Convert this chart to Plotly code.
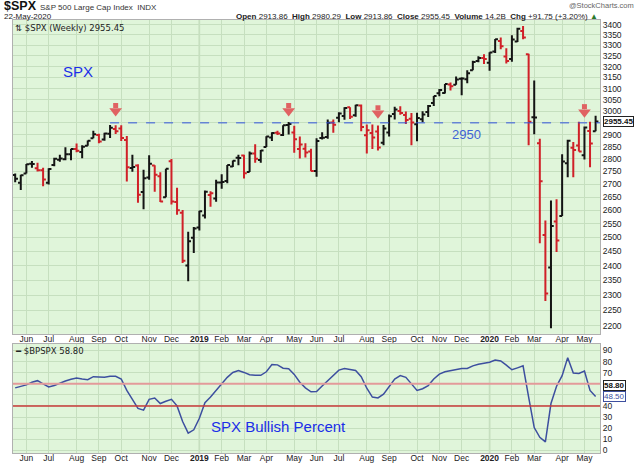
import plotly.graph_objects as go
import pandas as pd
import numpy as np

# weekly bars, week of 21-May-2018 .. week of 18-May-2020
week_start = pd.date_range("2018-05-21", periods=105, freq="7D")

spx_open = [2735.4, 2705.0, 2741.7, 2780.2, 2762.6, 2754.3, 2704.9, 2775.6, 2796.9, 2799.2,
            2819.0, 2840.3, 2827.9, 2853.9, 2884.7, 2898.4, 2880.0, 2903.8, 2923.8, 2926.3,
            2877.5, 2763.8, 2773.9, 2669.3, 2726.4, 2773.9, 2730.7, 2649.1, 2790.5, 2630.9,
            2590.8, 2400.6, 2498.9, 2535.6, 2580.3, 2657.9, 2644.0, 2706.5, 2712.4, 2769.3,
            2804.4, 2814.4, 2747.6, 2822.6, 2796.0, 2848.6, 2888.5, 2908.3, 2898.8, 2940.6,
            2908.9, 2840.2, 2841.9, 2830.0, 2751.5, 2885.8, 2889.8, 2951.4, 2971.4, 2979.8,
            3017.8, 2982.6, 3024.5, 2898.1, 2907.1, 2913.5, 2866.7, 2909.0, 2988.4, 3001.5,
            2983.5, 2967.1, 2944.2, 2965.8, 2996.5, 3035.4, 3078.9, 3080.3, 3117.9, 3117.4,
            3143.8, 3141.9, 3183.6, 3226.1, 3240.1, 3217.6, 3271.1, 3321.0, 3247.2, 3235.7,
            3318.3, 3369.0, 3257.6, 2974.3, 2863.9, 2508.6, 2393.5, 2558.0, 2578.3, 2782.5,
            2845.6, 2854.7, 2815.0, 2915.5, 2913.9]
spx_high = [2742.2, 2736.9, 2779.9, 2791.5, 2785.1, 2764.2, 2763.0, 2804.5, 2816.8, 2848.0,
            2841.6, 2863.4, 2855.6, 2876.2, 2916.5, 2903.8, 2908.3, 2940.9, 2939.9, 2939.9,
            2894.8, 2817.0, 2778.9, 2756.6, 2815.2, 2775.0, 2746.8, 2760.9, 2800.2, 2685.4,
            2601.1, 2520.3, 2538.1, 2597.8, 2675.5, 2671.9, 2716.7, 2739.0, 2775.7, 2794.2,
            2816.9, 2816.9, 2830.7, 2860.3, 2836.0, 2893.4, 2910.5, 2916.1, 2939.4, 2954.1,
            2937.3, 2892.2, 2864.4, 2841.4, 2884.9, 2910.6, 2964.2, 2964.0, 2995.8, 3017.8,
            3017.8, 3028.0, 3029.3, 2943.3, 2943.3, 2939.1, 2940.4, 2985.9, 3020.0, 3022.0,
            2999.2, 2992.5, 2993.3, 3000.4, 3027.4, 3066.9, 3097.8, 3120.5, 3127.6, 3154.3,
            3150.6, 3182.7, 3226.6, 3247.9, 3258.1, 3267.1, 3329.9, 3337.8, 3285.9, 3348.0,
            3385.1, 3393.5, 3259.8, 3136.7, 2882.6, 2562.0, 2637.0, 2641.4, 2818.6, 2879.2,
            2869.1, 2954.9, 2934.0, 2954.9, 2980.3]
spx_low = [2707.4, 2676.8, 2741.7, 2764.3, 2749.2, 2692.0, 2698.9, 2770.5, 2789.2, 2795.1,
           2795.1, 2827.2, 2802.5, 2853.9, 2884.7, 2864.1, 2875.0, 2886.6, 2903.3, 2874.0,
           2710.5, 2749.0, 2628.2, 2603.5, 2717.1, 2670.8, 2631.1, 2649.0, 2621.5, 2583.2,
           2408.6, 2346.6, 2444.0, 2524.6, 2569.1, 2612.7, 2631.6, 2681.8, 2703.5, 2767.3,
           2774.8, 2722.3, 2747.6, 2785.0, 2785.0, 2848.6, 2873.3, 2898.4, 2894.5, 2900.5,
           2825.4, 2801.4, 2805.5, 2750.5, 2728.8, 2880.0, 2883.3, 2908.0, 2952.2, 2963.4,
           2966.5, 2976.6, 2914.1, 2822.1, 2840.6, 2834.9, 2856.0, 2891.9, 2964.2, 2985.2,
           2945.5, 2856.0, 2873.0, 2952.9, 2975.3, 3023.2, 3065.9, 3078.3, 3091.4, 3117.4,
           3070.3, 3124.3, 3183.6, 3220.5, 3212.0, 3181.3, 3263.6, 3281.5, 3214.6, 3223.0,
           3315.2, 3328.5, 2855.8, 2901.5, 2478.9, 2280.5, 2191.9, 2447.5, 2578.3, 2727.1,
           2727.1, 2830.7, 2797.9, 2766.6, 2913.9]
spx_close = [2721.3, 2734.6, 2779.0, 2779.7, 2754.9, 2718.4, 2759.8, 2801.3, 2801.8, 2818.8,
             2840.4, 2833.3, 2850.1, 2874.7, 2901.5, 2871.7, 2905.0, 2929.7, 2914.0, 2885.6,
             2767.1, 2767.8, 2658.7, 2723.1, 2781.0, 2736.3, 2632.6, 2760.2, 2633.1, 2600.0,
             2416.6, 2485.7, 2531.9, 2596.3, 2670.7, 2664.8, 2706.5, 2707.9, 2775.6, 2792.7,
             2803.7, 2743.1, 2822.5, 2800.7, 2834.4, 2892.7, 2907.4, 2905.0, 2939.9, 2945.6,
             2881.4, 2859.5, 2826.1, 2752.1, 2873.3, 2887.0, 2950.5, 2941.8, 2990.4, 3013.8,
             2976.6, 3025.9, 2932.1, 2918.7, 2888.7, 2847.1, 2926.5, 2978.7, 3007.4, 2992.1,
             2961.8, 2952.0, 2970.3, 2986.2, 3022.6, 3066.9, 3093.1, 3120.5, 3110.3, 3141.0,
             3145.9, 3168.8, 3221.2, 3240.0, 3234.9, 3265.4, 3329.6, 3295.5, 3225.5, 3327.7,
             3380.2, 3337.8, 2954.2, 2972.4, 2711.0, 2304.9, 2541.5, 2488.7, 2789.8, 2874.6,
             2836.7, 2830.7, 2929.8, 2863.7, 2955.45]
close_before_first = 2712.97

bpspx = [56.3, 57.5, 59.0, 61.4, 62.8, 59.9, 57.2, 58.4, 60.8, 62.5,
         64.0, 65.2, 64.3, 63.7, 66.4, 66.2, 65.8, 66.7, 66.7, 64.3,
         54.0, 46.0, 37.8, 36.3, 46.0, 47.2, 42.2, 44.2, 46.0, 40.1,
         26.0, 15.6, 18.6, 28.9, 43.0, 48.0, 54.0, 60.5, 65.8, 70.2,
         72.0, 70.2, 68.1, 67.6, 67.6, 70.8, 77.3, 77.0, 74.0, 73.5,
         68.4, 61.4, 56.3, 52.8, 53.1, 58.0, 63.0, 67.3, 72.3, 73.7,
         72.9, 72.0, 66.4, 56.0, 48.0, 47.2, 50.7, 57.0, 64.3, 67.3,
         65.8, 59.9, 54.0, 55.5, 58.4, 64.3, 68.7, 70.8, 71.7, 73.2,
         73.7, 73.7, 76.1, 77.6, 78.2, 79.4, 81.4, 80.5, 76.7, 72.6,
         74.3, 76.1, 48.0, 20.6, 11.8, 7.7, 42.2, 57.8, 67.3, 83.5,
         69.6, 69.3, 71.4, 54.0, 48.5]

month_ticks = ["2018-06-04", "2018-07-02", "2018-08-06", "2018-09-03", "2018-10-01", "2018-11-05",
               "2018-12-03", "2019-01-07", "2019-02-04", "2019-03-04", "2019-04-01", "2019-05-06",
               "2019-06-03", "2019-07-01", "2019-08-05", "2019-09-02", "2019-10-07", "2019-11-04",
               "2019-12-02", "2020-01-06", "2020-02-03", "2020-03-02", "2020-04-06", "2020-05-04"]
month_labels = ["Jun", "Jul", "Aug", "Sep", "Oct", "Nov", "Dec", "<b>2019</b>", "Feb", "Mar", "Apr", "May",
                "Jun", "Jul", "Aug", "Sep", "Oct", "Nov", "Dec", "<b>2020</b>", "Feb", "Mar", "Apr", "May"]
price_ticks = list(range(2200, 3401, 50))
bp_ticks = list(range(0, 91, 10))
# labels hidden behind the value boxes on the right
price_hidden = [2950]
bp_hidden = [50, 60]

resistance = 2950
resistance_from = 17          # week index where the dashed line starts
arrow_weeks = [18, 49, 65, 102]
arrow_levels = [3010, 3010, 3000, 3005]
bp_ref_line = 58.8

RED = "#d02028"
BLACK = "#141414"
BG = "#e0f5da"
GRID = "#c6dfbf"
FONT = "Liberation Sans"

# bar colour follows close vs previous close, like StockCharts
prev_close = [close_before_first] + spx_close[:-1]
up = [c >= p for c, p in zip(spx_close, prev_close)]


def pick(vals, mask):
    return [v for v, m in zip(vals, mask) if m]


fig = go.Figure()
for mask, col in [(up, BLACK), ([not u for u in up], RED)]:
    fig.add_trace(go.Ohlc(
        x=pick(week_start, mask), open=pick(spx_open, mask), high=pick(spx_high, mask),
        low=pick(spx_low, mask), close=pick(spx_close, mask),
        increasing=dict(line=dict(color=col, width=2)),
        decreasing=dict(line=dict(color=col, width=2)),
        tickwidth=0.5, xaxis="x", yaxis="y", showlegend=False))

x_end = pd.Timestamp("2020-05-23 12:00")
x_start = pd.Timestamp("2018-05-18 06:00")

# 2950 resistance line
fig.add_trace(go.Scatter(x=[week_start[resistance_from], x_end], y=[resistance, resistance],
                         mode="lines", line=dict(color="#3355dd", width=1, dash="dash"),
                         xaxis="x", yaxis="y", showlegend=False, hoverinfo="skip"))

# red down arrows (shaft + head)
ax = [week_start[i] for i in arrow_weeks]
fig.add_trace(go.Scatter(x=ax, y=[v * 1.0050 for v in arrow_levels], mode="markers",
                         marker=dict(symbol="square", size=5, color="#e06262"),
                         xaxis="x", yaxis="y", showlegend=False, hoverinfo="skip"))
fig.add_trace(go.Scatter(x=ax, y=[v / 1.0030 for v in arrow_levels], mode="markers",
                         marker=dict(symbol="triangle-down", size=11, color="#e06262"),
                         xaxis="x", yaxis="y", showlegend=False, hoverinfo="skip"))

# bullish percent
fig.add_trace(go.Scatter(x=week_start, y=bpspx, mode="lines",
                         line=dict(color="#3d4f9f", width=1.5),
                         xaxis="x2", yaxis="y2", showlegend=False))

# plot area in pixels: x 12..600, y 20..460
def px(x):
    return (x - 12) / 588.0


def py(y):
    return (460 - y) / 440.0


ann = []


def text(x, y, s, size=9, color="#111", anchor="left", family=FONT, **kw):
    ann.append(dict(x=px(x), y=py(y), xref="paper", yref="paper", text=s, showarrow=False,
                    xanchor=anchor, yanchor="middle", font=dict(size=size, color=color, family=family), **kw))


text(1, 6, "<b>$SPX</b>", size=12.5)
text(37, 7, "S&P 500 Large Cap Index  INDX", size=8, color="#333")
text(1, 16, "22-May-2020", size=8, color="#222")
text(600, 16, "<b>Open</b> 2913.86  <b>High</b> 2980.29  <b>Low</b> 2913.86  <b>Close</b> 2955.45  "
     "<b>Volume</b> 14.2B  <b>Chg</b> +91.75 (+3.20%) <span style='color:#2a7a2a'>▲</span>",
     size=8, anchor="right", color="#222")
text(636, 5, "@StockCharts.com", size=7.5, anchor="right", color="#666")
text(12, 28, "⇅ $SPX (Weekly) 2955.45", size=8.5, color="#222", family="DejaVu Sans")
text(60, 72, "SPX", size=15, color="#1a2ee8")
text(466, 136, "2950", size=13, color="#3f63d6", anchor="center")
text(12, 356, "━ $BPSPX 58.80", size=8.5, color="#222", family="DejaVu Sans")
text(278, 433, "SPX Bullish Percent", size=15, color="#1a2ee8", anchor="center")

# value boxes on the right axis
box = dict(xref="paper", x=1.0, showarrow=False, xanchor="left", xshift=3, bgcolor="white",
           borderwidth=1, borderpad=0)
ann.append(dict(box, y=np.log10(spx_close[-1]), yref="y", text="<b>%.2f</b>" % spx_close[-1],
                bordercolor="#222", font=dict(size=8, color="#111", family=FONT)))
ann.append(dict(box, y=bp_ref_line, yref="y2", text="<b>%.2f</b>" % bp_ref_line,
                bordercolor="#222", font=dict(size=8, color="#111", family=FONT)))
ann.append(dict(box, y=bpspx[-1], yref="y2", text="%.2f" % bpspx[-1],
                bordercolor="#3d4f9f", font=dict(size=8, color="#3d4f9f", family=FONT)))

shapes = [
    dict(type="line", xref="paper", x0=0, x1=1, yref="y2", y0=60, y1=60,
         line=dict(color="#e39a9a", width=2)),
    dict(type="line", xref="paper", x0=0, x1=1, yref="y2", y0=40, y1=40,
         line=dict(color="#c83a3a", width=1.5)),
]
for d in ["2019-01-07", "2020-01-06"]:
    for yr in ["y domain", "y2 domain"]:
        shapes.append(dict(type="line", xref="x", x0=d, x1=d, yref=yr, y0=0, y1=1,
                           line=dict(color="#b9d3b1", width=1.5), layer="below"))

xcommon = dict(type="date", range=[x_start, x_end], tickvals=month_ticks, ticktext=month_labels,
               showgrid=True, gridcolor=GRID, gridwidth=1, ticks="", showline=True, mirror=True,
               linecolor="#b0b0b0", linewidth=1, tickfont=dict(size=8.5, color="#222", family=FONT),
               ticklabelstandoff=-3, rangeslider=dict(visible=False), fixedrange=True)
ycommon = dict(side="right", showgrid=True, gridcolor=GRID, gridwidth=1, ticks="", showline=True,
               mirror=True, linecolor="#b0b0b0", linewidth=1, zeroline=False,
               tickfont=dict(size=8.5, color="#222", family=FONT))

fig.update_layout(
    width=640, height=475,
    margin=dict(l=12, r=40, t=20, b=15),
    paper_bgcolor="white", plot_bgcolor=BG,
    xaxis=dict(domain=[0, 1], anchor="y", **xcommon),
    xaxis2=dict(domain=[0, 1], anchor="y2", matches="x", **xcommon),
    yaxis=dict(domain=[0.275, 1], anchor="x", type="log", range=[3.3373, 3.5344],
               tickvals=price_ticks,
               ticktext=["" if v in price_hidden else str(v) for v in price_ticks], **ycommon),
    yaxis2=dict(domain=[0, 0.2523], anchor="x2", range=[-2.3, 96], tickvals=bp_ticks,
                ticktext=["" if v in bp_hidden else str(v) for v in bp_ticks], **ycommon),
    annotations=ann, shapes=shapes,
    font=dict(family=FONT),
)

# drop the browser's default 8px body margin so the 640x475 figure fills the window;
# hide the modebar so it doesn't cover the header line
fig.write_html("out.html", config={"displayModeBar": False},
               post_script="document.body.style.margin='0';")
